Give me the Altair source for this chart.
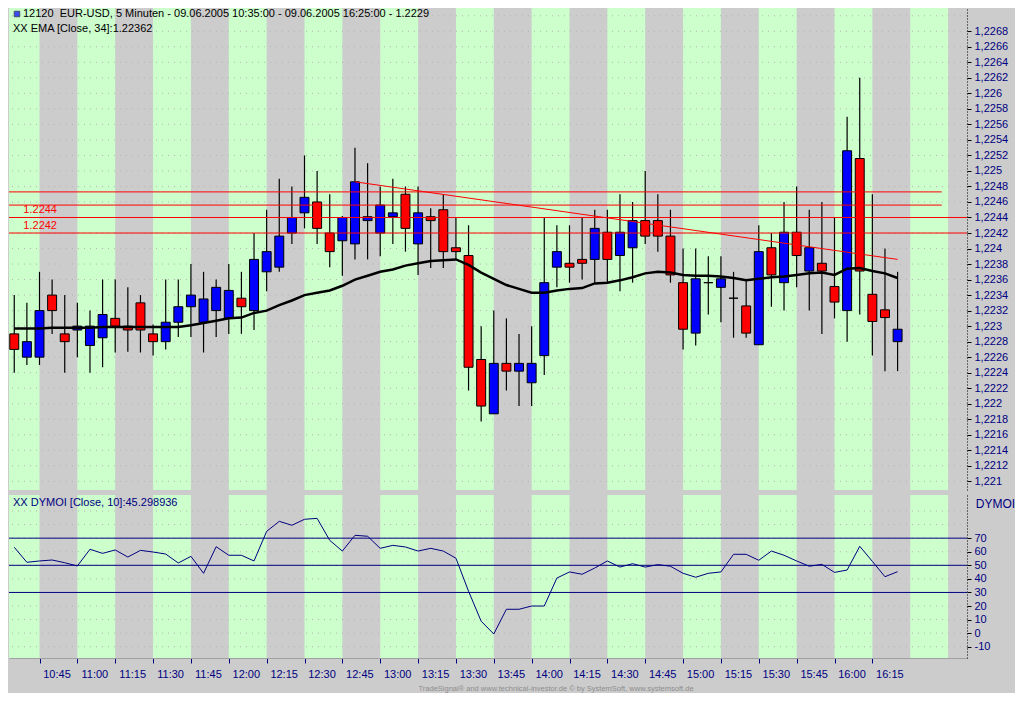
import json
import altair as alt
import pandas as pd

# ---------------- data ----------------
opens = [1.2229, 1.2226, 1.2226, 1.2234, 1.2229, 1.22295, 1.22275, 1.22285, 1.2231, 1.2230,
         1.2233, 1.2229, 1.2228, 1.22305, 1.22325, 1.22305, 1.2232, 1.2231, 1.22336, 1.2232,
         1.2237, 1.22376, 1.2242, 1.22446, 1.2246, 1.2242, 1.2241, 1.22406, 1.22436, 1.2242,
         1.22441, 1.2247, 1.22406, 1.22441, 1.2245, 1.22401, 1.22391, 1.22257, 1.22187, 1.22252,
         1.22242, 1.22227, 1.22262, 1.22376, 1.22381, 1.22386, 1.22386, 1.22421, 1.22391, 1.22401,
         1.22436, 1.22436, 1.22416, 1.22356, 1.22291, 1.22356, 1.2235, 1.22336, 1.22326, 1.22276,
         1.22401, 1.22356, 1.22421, 1.22371, 1.22381, 1.22351, 1.2232, 1.22516, 1.22341, 1.22321,
         1.2228]
highs = [1.2234, 1.2233, 1.2237, 1.2236, 1.2234, 1.2233, 1.2232, 1.2236, 1.2236, 1.2235,
         1.2234, 1.22302, 1.2236, 1.2236, 1.2238, 1.2237, 1.2236, 1.2238, 1.2237, 1.2242,
         1.2245, 1.2249, 1.2248, 1.2252, 1.2250, 1.2247, 1.22442, 1.2253, 1.2251, 1.2248,
         1.2249, 1.2248, 1.2248, 1.22452, 1.2247, 1.2244, 1.2243, 1.2230, 1.2232, 1.2231,
         1.2229, 1.2230, 1.2244, 1.2243, 1.2243, 1.2244, 1.2245, 1.2245, 1.2247, 1.2246,
         1.2250, 1.2247, 1.2245, 1.2240, 1.2240, 1.2239, 1.2239, 1.2237, 1.2236, 1.2243,
         1.2242, 1.2246, 1.2248, 1.2245, 1.2246, 1.2244, 1.2257, 1.2262, 1.2247, 1.2240,
         1.2237]
lows = [1.2224, 1.2225, 1.2225, 1.2229, 1.2224, 1.2226, 1.2224, 1.22247, 1.22266, 1.22267,
        1.22266, 1.22262, 1.2227, 1.22286, 1.22286, 1.22266, 1.22286, 1.2229, 1.2229, 1.22295,
        1.22345, 1.2237, 1.22406, 1.22426, 1.22406, 1.22376, 1.22365, 1.22386, 1.22386, 1.2239,
        1.22406, 1.22396, 1.22366, 1.22375, 1.22375, 1.22386, 1.22217, 1.22177, 1.22187, 1.22217,
        1.22197, 1.22197, 1.22237, 1.2235, 1.22356, 1.2236, 1.22356, 1.22356, 1.22345, 1.22356,
        1.22406, 1.22396, 1.22356, 1.2227, 1.22275, 1.22315, 1.22305, 1.22285, 1.22285, 1.22276,
        1.22325, 1.2232, 1.2235, 1.2232, 1.2229, 1.2231, 1.2228, 1.22315, 1.22262, 1.22242,
        1.22242]
closes = [1.2227, 1.2228, 1.2232, 1.2232, 1.2228, 1.2230, 1.2230, 1.22315, 1.2230, 1.22295,
          1.22295, 1.2228, 1.22305, 1.22325, 1.2234, 1.22335, 1.2235, 1.22346, 1.22325, 1.22386,
          1.22396, 1.22416, 1.2244, 1.22466, 1.22426, 1.22396, 1.2244, 1.22486, 1.22441, 1.22456,
          1.22446, 1.22426, 1.22446, 1.22436, 1.22396, 1.22396, 1.22247, 1.22197, 1.22252, 1.22242,
          1.22252, 1.22252, 1.22356, 1.22396, 1.22376, 1.22381, 1.22426, 1.22386, 1.22421, 1.22436,
          1.22416, 1.22416, 1.22366, 1.22296, 1.22361, 1.22356, 1.22361, 1.22336, 1.22291, 1.22396,
          1.22366, 1.22421, 1.22391, 1.22401, 1.22371, 1.22331, 1.22526, 1.22371, 1.22306, 1.22311,
          1.22296]
ema34 = [1.22297, 1.22297, 1.22297, 1.22298, 1.22298, 1.22298, 1.22298, 1.22299, 1.22299, 1.22299,
         1.22299, 1.22299, 1.22299, 1.22299, 1.22301, 1.22304, 1.22307, 1.22310, 1.22311, 1.22317,
         1.22320, 1.22327, 1.22333, 1.22340, 1.22343, 1.22346, 1.22352, 1.22360, 1.22365, 1.22370,
         1.22373, 1.22378, 1.22381, 1.22384, 1.22385, 1.22386, 1.22379, 1.22369, 1.22361, 1.22353,
         1.22348, 1.22343, 1.22343, 1.22346, 1.22348, 1.22349, 1.22355, 1.22356, 1.22359, 1.22363,
         1.22368, 1.22370, 1.22369, 1.22366, 1.22365, 1.22365, 1.22364, 1.22362, 1.22359, 1.22361,
         1.22363, 1.22364, 1.22366, 1.22368, 1.22369, 1.22366, 1.22374, 1.22375, 1.22371, 1.22368,
         1.22362]
dymoi = [63.3, 52.2, 53.2, 53.9, 51.9, 49.5, 61.8, 58.8, 61.3, 56.1,
         61.0, 59.8, 58.3, 51.7, 56.6, 44.1, 63.7, 57.4, 57.4, 53.2,
         75.0, 82.4, 79.5, 83.9, 84.6, 68.4, 60.5, 72.1, 71.4, 62.5,
         64.7, 63.5, 60.5, 62.5, 60.5, 55.2, 30.9, 8.8, -0.6, 17.6,
         17.6, 20.0, 20.0, 40.6, 45.1, 43.4, 48.0, 53.2, 48.7, 51.2,
         48.7, 50.5, 49.3, 44.1, 41.2, 44.1, 45.1, 58.1, 58.1, 53.7,
         60.5, 57.4, 53.2, 49.3, 50.7, 44.8, 46.5, 64.0, 52.9, 41.6,
         45.3]

# trend line (bar index, price)
trend_bars = [27, 70]
trend_prices = [1.22486, 1.22386]

# horizontal lines
hline_values = [1.22473, 1.22456, 1.2244, 1.2242]
hline_ends = [73.5, 73.5, 75.5, 75.5]
hline_labels = ["", "", "1.2244", "1.2242"]

# DYMOI level lines
dymoi_levels = [70, 50, 30]

# background bands: first bar index of every green 15-minute band
green_band_starts = [-1, 5, 11, 17, 23, 29, 35, 41, 47, 53, 59, 65, 71]

# axis ticks / labels
time_tick_bars = [2, 5, 8, 11, 14, 17, 20, 23, 26, 29, 32, 35, 38, 41, 44, 47, 50, 53, 56, 59, 62, 65, 68]
time_tick_labels = ["10:45", "11:00", "11:15", "11:30", "11:45", "12:00", "12:15", "12:30",
                    "12:45", "13:00", "13:15", "13:30", "13:45", "14:00", "14:15", "14:30",
                    "14:45", "15:00", "15:15", "15:30", "15:45", "16:00", "16:15"]
price_ticks = [1.2210, 1.2212, 1.2214, 1.2216, 1.2218, 1.2220, 1.2222, 1.2224, 1.2226, 1.2228,
               1.2230, 1.2232, 1.2234, 1.2236, 1.2238, 1.2240, 1.2242, 1.2244, 1.2246, 1.2248,
               1.2250, 1.2252, 1.2254, 1.2256, 1.2258, 1.2260, 1.2262, 1.2264, 1.2266, 1.2268]
price_grid = price_ticks + [1.2270]
dymoi_ticks = [-10, 0, 10, 20, 30, 40, 50, 60, 70]
dymoi_grid = [-10, 0, 10, 20, 30, 40, 50, 60, 70, 80, 90]

header_text = "12120\u00a0\u00a0EUR-USD, 5 Minuten - 09.06.2005 10:35:00 - 09.06.2005 16:25:00 - 1.2229"
ema_text = "XX EMA [Close, 34]:1.22362"
dymoi_text = "XX DYMOI [Close, 10]:45.298936"
footer_text = "TradeSignal\u00ae and www.technical-investor.de \u00a9 by SystemSoft, www.systemsoft.de"

# ---------------- layout ----------------
W = 958
H1 = 482
H2 = 163
X_DOM = [-0.417, 75.5]
P_DOM = [1.220888, 1.2271]
D_DOM = [-18.3, 101.8]
FONT = "Liberation Sans"
NAVY = "#000080"

n = len(opens)
bars = pd.DataFrame({"i": list(range(n)), "open": opens, "high": highs, "low": lows,
                     "close": closes, "ema": ema34, "dymoi": dymoi})
bars["x1"] = bars["i"] - 0.355
bars["x2"] = bars["i"] + 0.355
bars["dir"] = ["up" if c > o else ("down" if c < o else "flat") for o, c in zip(opens, closes)]

bands = pd.DataFrame({"b0": green_band_starts, "b1": [s + 3 for s in green_band_starts]})
hl = pd.DataFrame({"v": hline_values, "x0": [X_DOM[0]] * len(hline_values), "x1": hline_ends,
                   "label": hline_labels})
hl_lab = hl[hl["label"] != ""]
trend = pd.DataFrame({"i": trend_bars, "v": trend_prices})

xs = alt.Scale(domain=X_DOM, nice=False, zero=False)
ps = alt.Scale(domain=P_DOM, nice=False, zero=False)
ds = alt.Scale(domain=D_DOM, nice=False, zero=False)

yax = alt.Axis(orient="right", values=price_ticks, title=None, grid=False,
               labelExpr="replace(format(datum.value, '.4~f'), '.', ',')",
               tickSize=4, tickColor="black", domainColor="black", domainDash=[1, 2],
               labelColor=NAVY, labelFontSize=11, labelFont=FONT, labelPadding=3)

dax = alt.Axis(orient="right", values=dymoi_ticks, title="DYMOI", grid=False,
               labelExpr="toString(datum.value)",
               tickSize=4, tickColor="black", domainColor="black", domainDash=[1, 2],
               labelColor=NAVY, labelFontSize=11, labelFont=FONT, labelPadding=3,
               titleAngle=0, titleAlign="center", titleBaseline="top", titleX=28, titleY=3,
               titleColor=NAVY, titleFontSize=12, titleFontWeight="normal", titleFont=FONT)

xax_lower = alt.Axis(values=time_tick_bars, title=None, grid=False,
                     labelExpr=json.dumps(time_tick_labels) + "[round((datum.value - 2) / 3)]",
                     tickSize=5, tickColor=NAVY, domainColor="#a0a0a0",
                     labelColor=NAVY, labelFontSize=11, labelFont=FONT, labelOffset=17,
                     labelPadding=5, labelAlign="center")

# ---------------- upper panel ----------------
band_u = alt.Chart(bands).mark_rect(color="#CCFFCC", clip=True).encode(
    x=alt.X("b0:Q", scale=xs, axis=None), x2="b1:Q")
grid_u = alt.Chart(pd.DataFrame({"v": price_grid})).mark_rule(
    color="#b4b4b4", strokeDash=[1, 5], strokeWidth=1).encode(
    y=alt.Y("v:Q", scale=ps, axis=yax))
wick = alt.Chart(bars).mark_rule(color="black", strokeWidth=1.2).encode(
    x=alt.X("i:Q", scale=xs, axis=None), y=alt.Y("low:Q", scale=ps, axis=yax), y2="high:Q")
body = alt.Chart(bars).mark_rect(stroke="black", strokeWidth=1).encode(
    x=alt.X("x1:Q", scale=xs, axis=None), x2="x2:Q",
    y=alt.Y("open:Q", scale=ps, axis=yax), y2="close:Q",
    fill=alt.Fill("dir:N", scale=alt.Scale(domain=["up", "down", "flat"],
                                            range=["#0000FF", "#FF0000", "#000000"]),
                  legend=None))
hlines = alt.Chart(hl).mark_rule(color="#FF0000", strokeWidth=1).encode(
    x=alt.X("x0:Q", scale=xs, axis=None), x2="x1:Q", y=alt.Y("v:Q", scale=ps, axis=yax))
hlabels = alt.Chart(hl_lab).mark_text(align="left", baseline="middle", dy=-7, color="#FF0000",
                                      fontSize=11, font=FONT).encode(
    x=alt.datum(0.72, scale=xs), y=alt.Y("v:Q", scale=ps, axis=yax), text="label:N")
trend_line = alt.Chart(trend).mark_line(color="#FF0000", strokeWidth=1).encode(
    x=alt.X("i:Q", scale=xs, axis=None), y=alt.Y("v:Q", scale=ps, axis=yax))
ema_line = alt.Chart(bars).mark_line(color="black", strokeWidth=2.5).encode(
    x=alt.X("i:Q", scale=xs, axis=None), y=alt.Y("ema:Q", scale=ps, axis=yax))
icon = alt.Chart(pd.DataFrame({"a": [1]})).mark_square(
    size=30, filled=True, color="#0000FF", stroke="#000040", strokeWidth=1).encode(
    x=alt.value(8), y=alt.value(6))
hdr = alt.Chart(pd.DataFrame({"t": [header_text]})).mark_text(
    align="left", baseline="middle", fontSize=11, font=FONT, color="black").encode(
    x=alt.value(14), y=alt.value(6), text="t:N")
ema_lbl = alt.Chart(pd.DataFrame({"t": [ema_text]})).mark_text(
    align="left", baseline="middle", fontSize=11, font=FONT, color="black").encode(
    x=alt.value(4), y=alt.value(21), text="t:N")

upper = alt.layer(band_u, grid_u, wick, body, hlines, trend_line, ema_line, hlabels,
                  icon, hdr, ema_lbl).properties(width=W, height=H1)

# ---------------- lower panel ----------------
band_l = alt.Chart(bands).mark_rect(color="#CCFFCC", clip=True).encode(
    x=alt.X("b0:Q", scale=xs, axis=xax_lower), x2="b1:Q")
grid_l = alt.Chart(pd.DataFrame({"v": dymoi_grid})).mark_rule(
    color="#b4b4b4", strokeDash=[1, 5], strokeWidth=1).encode(
    y=alt.Y("v:Q", scale=ds, axis=dax))
levels = alt.Chart(pd.DataFrame({"v": dymoi_levels})).mark_rule(
    color=NAVY, strokeWidth=1).encode(y=alt.Y("v:Q", scale=ds, axis=dax))
dy_line = alt.Chart(bars).mark_line(color=NAVY, strokeWidth=1).encode(
    x=alt.X("i:Q", scale=xs, axis=xax_lower), y=alt.Y("dymoi:Q", scale=ds, axis=dax))
dy_lbl = alt.Chart(pd.DataFrame({"t": [dymoi_text]})).mark_text(
    align="left", baseline="middle", fontSize=11, font=FONT, color=NAVY).encode(
    x=alt.value(4), y=alt.value(8), text="t:N")

lower = alt.layer(band_l, grid_l, levels, dy_line, dy_lbl).properties(width=W, height=H2)

chart = alt.vconcat(upper, lower, spacing=5).resolve_scale(
    x="independent", y="independent", fill="independent"
).properties(
    padding=0,
    title=alt.TitleParams(footer_text, orient="bottom", anchor="start", dx=410, offset=6,
                          fontSize=7.5, font=FONT, color="#8c8c8c", fontWeight="normal"),
).configure(background="#CCCCCC", font=FONT).configure_view(stroke=None)

chart.save("out.html", embed_options={"renderer": "svg", "actions": False})
